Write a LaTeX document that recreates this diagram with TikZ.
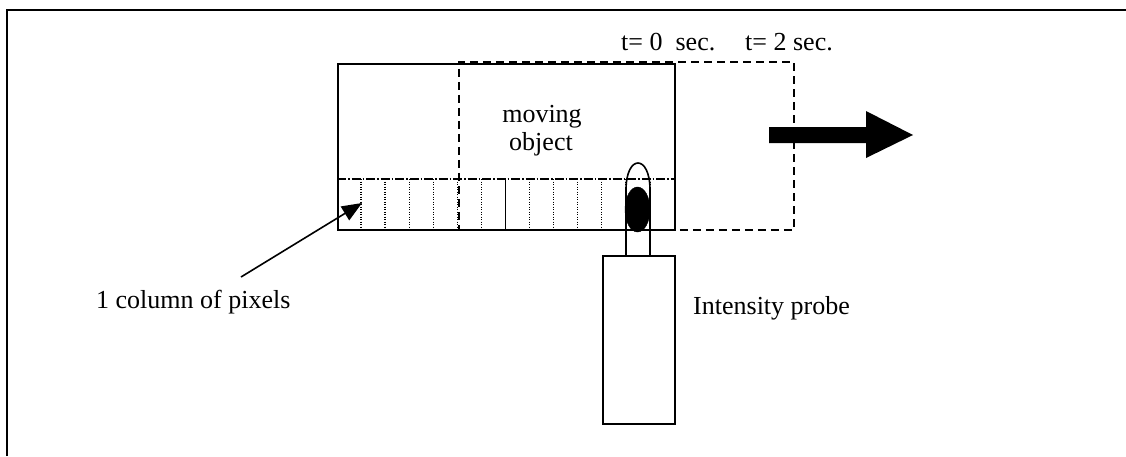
\documentclass[tikz,border=0pt]{standalone}
\usepackage{fontspec}
\setmainfont{Liberation Serif}
\usetikzlibrary{arrows.meta,shapes.geometric}
\begin{document}
\begin{tikzpicture}[x=1pt,y=-1pt,
  frameline/.style={line width=1.8pt},
  objbox/.style={draw, line width=1.8pt, inner sep=0pt, anchor=north west},
  dashbox/.style={draw, line width=1.6pt, dash pattern=on 8pt off 5pt, inner sep=0pt, anchor=north west},
  pixline/.style={line width=1.3pt, dash pattern=on 1.3pt off 1.2pt},
  rowline/.style={line width=1.4pt, dash pattern=on 9pt off 2pt on 1.5pt off 2pt},
  lbl/.style={font=\fontsize{26}{28}\selectfont, inner sep=0pt},
]
\useasboundingbox (0,0) rectangle (1126,456);
% outer frame (only top and left edges visible)
\draw[frameline] (7,456) -- (7,10) -- (1126,10);

% object at t=0
\node[objbox, minimum width=337pt, minimum height=166pt] (obj0) at (337,63) {};
% pixel row
\draw[rowline] (337,179) -- (674,179);
\foreach \i in {1,2,3,4,5,6,8,9,10,11,12,13}{
  \draw[pixline] (337+\i*24.07,179) -- (337+\i*24.07,229);
}
\draw[line width=1.3pt] (337+7*24.07,179) -- (337+7*24.07,229);
% object at t=2
\node[dashbox, minimum width=335pt, minimum height=168pt] (obj2) at (458,61) {};

% labels
\node[lbl, anchor=base] (mov) at (542,122) {moving};
\node[lbl, anchor=base] (objt) at (541,150) {object};
\node[lbl, anchor=base west] (t0) at (621,50) {t= 0\ \ sec.};
\node[lbl, anchor=base west] (t2) at (745,50) {t= 2 sec.};

% probe
\node[objbox, minimum width=72pt, minimum height=168pt] (probe) at (602,255) {};
\draw[line width=1.6pt] (626,255) -- (626,190) .. controls (626,154) and (650,154) .. (650,190) -- (650,255);
\node[draw, fill=black, ellipse, minimum width=25pt, minimum height=45pt, inner sep=0pt] (spot) at (637.5,209.5) {};
\node[lbl, anchor=base west] (problbl) at (693,314) {Intensity probe};

% motion arrow
\fill (769,127) -- (866,127) -- (866,111) -- (913,135) -- (866,158) -- (866,143) -- (769,143) -- cycle;

% column pointer
\node[lbl, anchor=base west] (collbl) at (96,308) {1 column of pixels};
\coordinate (colfoot) at (241,277);
\coordinate (colpt) at (362,203);
\draw[line width=1.6pt, -{Triangle[length=20pt,width=16pt]}] (colfoot) -- (colpt);
\end{tikzpicture}
\end{document}
